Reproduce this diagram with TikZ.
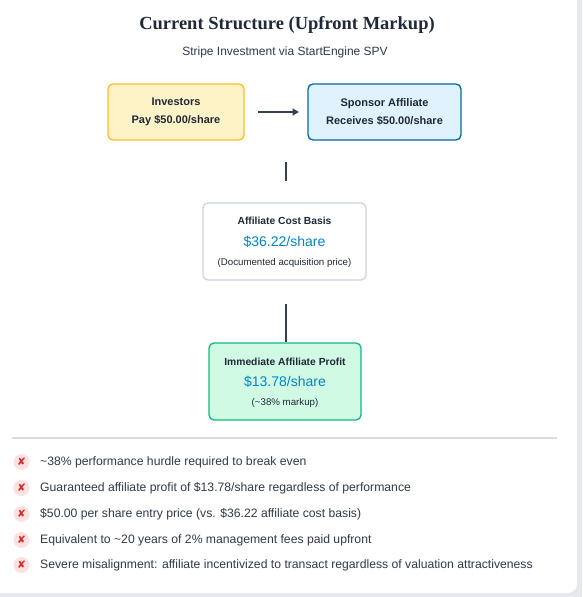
\documentclass[tikz,border=0pt]{standalone}
\usepackage{fontspec}
\setmainfont{Liberation Sans}
\newfontfamily\titlefont{Liberation Serif}
\newfontfamily\symfont{DejaVu Sans}
\usetikzlibrary{arrows.meta}
\definecolor{bgray}{HTML}{E6E8EC}
\definecolor{txt}{HTML}{1F2937}
\definecolor{subtxt}{HTML}{2F3A4A}
\definecolor{yfill}{HTML}{FEF3C7}
\definecolor{ydraw}{HTML}{FBBF24}
\definecolor{bfill}{HTML}{E0F2FE}
\definecolor{bdraw}{HTML}{0369A1}
\definecolor{gdraw}{HTML}{CBD5E1}
\definecolor{mfill}{HTML}{D1FAE5}
\definecolor{mdraw}{HTML}{10B981}
\definecolor{bluetxt}{HTML}{0284C7}
\definecolor{conn}{HTML}{334155}
\definecolor{sep}{HTML}{D5DCE4}
\definecolor{pink}{HTML}{FEE2E2}
\definecolor{redx}{HTML}{DC2626}
\tikzset{
  box/.style={rectangle, rounded corners=5pt, line width=1.3pt, align=center, text=txt, inner sep=0pt},
  conline/.style={draw=conn, line width=1.8pt},
  bullettxt/.style={anchor=west, text=subtxt, font=\fontsize{12.2}{14}\selectfont, inner sep=0pt},
  xmark/.style={circle, fill=pink, minimum size=16pt, inner sep=0pt, text=redx, font=\symfont\fontsize{10.5}{11}\selectfont}
}
\begin{document}
\begin{tikzpicture}[x=1pt,y=-1pt]
\useasboundingbox (0,0) rectangle (582,597);
\fill[bgray] (0,0) rectangle (582,597);
\fill[white, rounded corners=9pt] (-20,-20) rectangle (577,593);
% title
\node[font=\titlefont\bfseries\fontsize{18.5}{22}\selectfont, text=txt] (title) at (287,25) {Current Structure (Upfront Markup)};
\node[font=\fontsize{12}{14}\selectfont, text=subtxt] (sub) at (285,52) {Stripe Investment via StartEngine SPV};
% boxes
\node[box, fill=yfill, draw=ydraw, minimum width=136pt, minimum height=56pt, font=\bfseries\fontsize{11}{18}\selectfont] (inv) at (176,112) {Investors\\Pay \$50.00/share};
\node[box, fill=bfill, draw=bdraw, minimum width=153pt, minimum height=56pt, font=\bfseries\fontsize{11}{18}\selectfont] (spon) at (384.5,112) {Sponsor Affiliate\\Receives \$50.00/share};
\coordinate (a1) at (258,112);
\coordinate (a2) at (299,112);
\draw[conline, -{Triangle[length=6.5pt,width=7pt]}] (a1) -- (a2);
\coordinate (v1) at (286,162);
\coordinate (v2) at (286,181);
\draw[conline] (v1) -- (v2);
\node[box, fill=white, draw=gdraw, minimum width=163pt, minimum height=77pt] (cost) at (284.5,241.5) {};
\node[font=\bfseries\fontsize{10.3}{12}\selectfont, text=txt] (costt) at (284.5,221) {Affiliate Cost Basis};
\node[font=\fontsize{14}{16}\selectfont, text=bluetxt] (costv) at (284.5,241.5) {\$36.22/share};
\node[font=\fontsize{9.7}{11}\selectfont, text=txt] (costn) at (284.5,263) {(Documented acquisition price)};
\node[box, fill=mfill, draw=mdraw, minimum width=152pt, minimum height=77pt] (prof) at (285,381.5) {};
\node[font=\bfseries\fontsize{10.3}{12}\selectfont, text=txt] (proft) at (285,361.5) {Immediate Affiliate Profit};
\node[font=\fontsize{14}{16}\selectfont, text=bluetxt] (profv) at (285,381.5) {\$13.78/share};
\node[font=\fontsize{9.7}{11}\selectfont, text=txt] (profn) at (285,403) {(\textasciitilde38\% markup)};
\draw[conline] (cost.south -| 286,0) ++(0,23) coordinate (l1) -- (prof.north -| 286,0);
% separator
\coordinate (s1) at (12,438);
\coordinate (s2) at (557,438);
\draw[sep, line width=1.3pt] (s1) -- (s2);
% bullets
\foreach \y/\t [count=\i] in {462/{\textasciitilde38\% performance hurdle required to break even},
  488/{Guaranteed affiliate profit of \$13.78/share regardless of performance},
  514/{\$50.00 per share entry price (vs. \$36.22 affiliate cost basis)},
  540/{Equivalent to \textasciitilde20 years of 2\% management fees paid upfront},
  565/{Severe misalignment: affiliate incentivized to transact regardless of valuation attractiveness}}{
  \node[xmark] (x\i) at (21.5,\y) {✘};
  \node[bullettxt] (b\i) at (40,\y) {\t};
}
\end{tikzpicture}
\end{document}
